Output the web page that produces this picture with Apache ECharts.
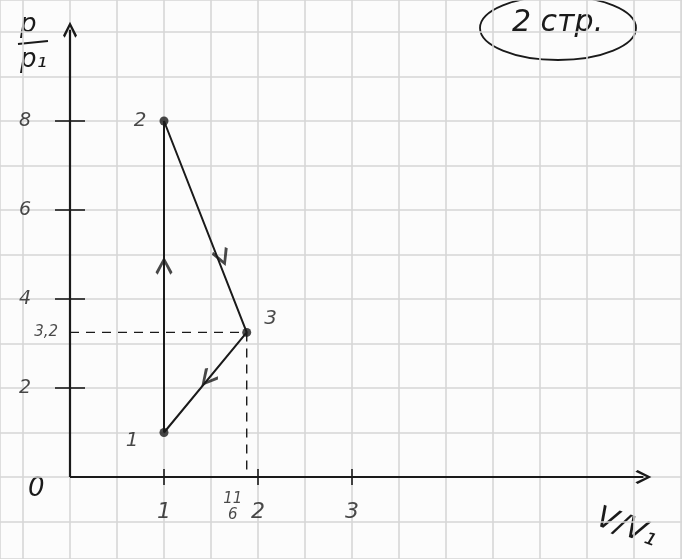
<!DOCTYPE html>
<html>
<head>
<meta charset="utf-8">
<script src="https://cdn.jsdelivr.net/npm/echarts@6/dist/echarts.min.js"></script>
<style>
html, body { margin: 0; padding: 0; background: #fcfcfc; }
#main { width: 682px; height: 559px; }
</style>
</head>
<body>
<div id="main"></div>
<script>
// states of the cycle, in V/V1 and p/p1
var stateNames = ['1', '2', '3']
var stateV = [1, 1, 1.88]
var stateP = [1, 8, 3.25]
var cycleOrder = [0, 1, 2, 0]

var xTicks = [1, 2, 3]
var yTicks = [2, 4, 6, 8]
var xAxisEnd = 6.1
var yAxisEnd = 10.05

// where the direction arrows sit on each leg
var arrowV = [1, 1.62, 1.46]
var arrowP = [4.75, 4.93, 2.2]
var arrowRot = [0, -158, 140]

var guideLabelY = '3,2'
var guideLabelX = '11\n6'

var ink = '#1a1a1a'
var font = 'DejaVu Sans'
var chevron = 'path://M6,0 L12,9 L10.5,10.4 L6,3.2 L1.5,10.4 L0,9 Z'

var myChart = echarts.init(document.getElementById('main'))

var pts = stateV.map(function (v, i) { return [v, stateP[i]] })
var cycle = cycleOrder.map(function (i) { return pts[i] })
var p3 = pts[2]

// squared paper: 47px per half unit of V, 44.5px per unit of p, origin at (70, 477)
var option = {
  backgroundColor: '#fcfcfc',
  animation: false,
  grid: { left: 0, right: 0, top: 0, bottom: 0 },
  xAxis: {
    type: 'value', min: -70 / 94, max: 612 / 94, minInterval: 0.5, maxInterval: 0.5,
    axisLine: { show: false }, axisTick: { show: false }, axisLabel: { show: false },
    splitLine: { lineStyle: { color: '#d6d6d6', width: 1.6 } }
  },
  yAxis: {
    type: 'value', min: -82 / 44.5, max: 477 / 44.5, minInterval: 1, maxInterval: 1,
    axisLine: { show: false }, axisTick: { show: false }, axisLabel: { show: false },
    splitLine: { lineStyle: { color: '#d6d6d6', width: 1.6 } }
  },
  graphic: [
    { type: 'text', left: 20, top: 12, style: { text: 'p', font: 'italic 26px ' + font, fill: ink } },
    { type: 'line', shape: { x1: 18, y1: 44, x2: 48, y2: 41 }, style: { stroke: ink, lineWidth: 2 } },
    { type: 'text', left: 20, top: 47, style: { text: 'p₁', font: 'italic 26px ' + font, fill: ink } },
    { type: 'text', left: 28, top: 476, style: { text: '0', font: 'italic 26px ' + font, fill: ink } },
    { type: 'text', x: 602, y: 503, rotation: -0.35, style: { text: 'V/V₁', font: 'italic 30px ' + font, fill: ink } },
    { type: 'ellipse', shape: { cx: 558, cy: 28, rx: 78, ry: 32 }, style: { fill: 'none', stroke: ink, lineWidth: 1.8 } },
    { type: 'text', left: 512, top: 8, style: { text: '2 стр.', font: 'italic 30px ' + font, fill: ink } }
  ],
  series: [
    {
      name: 'axisV', type: 'line', silent: true, symbolSize: [14, 16],
      lineStyle: { color: ink, width: 2.2 }, itemStyle: { color: ink },
      data: [{ value: [0, 0], symbol: 'none' }, { value: [xAxisEnd, 0], symbol: chevron, symbolRotate: -90 }]
    },
    {
      name: 'axisP', type: 'line', silent: true, symbolSize: [14, 16],
      lineStyle: { color: ink, width: 2.2 }, itemStyle: { color: ink },
      data: [{ value: [0, 0], symbol: 'none' }, { value: [0, yAxisEnd], symbol: chevron }]
    },
    {
      name: 'ticksV', type: 'scatter', symbol: 'rect', symbolSize: [2, 16],
      itemStyle: { color: ink },
      label: { show: true, position: 'bottom', distance: 16, color: ink, fontFamily: font, fontSize: 22, fontStyle: 'italic', formatter: function (p) { return p.value[0] } },
      data: xTicks.map(function (v) { return [v, 0] })
    },
    {
      name: 'ticksP', type: 'scatter', symbol: 'rect', symbolSize: [30, 2],
      itemStyle: { color: ink },
      label: { show: true, position: 'left', distance: 24, color: ink, fontFamily: font, fontSize: 19, fontStyle: 'italic', formatter: function (p) { return p.value[1] } },
      data: yTicks.map(function (v) { return [0, v] })
    },
    {
      name: 'guideP', type: 'line', symbol: 'none',
      lineStyle: { color: ink, width: 1.4, type: [9, 7] },
      data: [[0, p3[1]], p3]
    },
    {
      name: 'guideV', type: 'line', symbol: 'none',
      lineStyle: { color: ink, width: 1.4, type: [9, 7] },
      data: [p3, [p3[0], 0]]
    },
    {
      name: 'guideLabels', type: 'scatter', symbolSize: 0,
      data: [
        { value: [0, p3[1]], label: { show: true, position: 'left', distance: 12, formatter: guideLabelY, fontSize: 15 } },
        { value: [p3[0], 0], label: { show: true, position: 'bottom', distance: 14, offset: [-14, 0], formatter: guideLabelX, fontSize: 15, lineHeight: 16 } }
      ],
      label: { color: ink, fontFamily: font, fontStyle: 'italic' }
    },
    {
      name: 'cycle', type: 'line', symbol: 'none',
      lineStyle: { color: ink, width: 2 },
      data: cycle
    },
    {
      name: 'states', type: 'scatter', symbolSize: 9,
      itemStyle: { color: ink },
      label: { show: true, color: ink, fontFamily: font, fontSize: 20, fontStyle: 'italic' },
      data: pts.map(function (p, i) {
        var lbl = [{ position: 'left', offset: [-16, 8] }, { position: 'left', offset: [-8, 0] }, { position: 'right', offset: [8, -14] }][i]
        return { value: p, label: Object.assign({ formatter: stateNames[i] }, lbl) }
      })
    },
    {
      name: 'direction', type: 'scatter', symbol: chevron, symbolSize: [17, 18],
      itemStyle: { color: ink },
      data: arrowV.map(function (v, i) { return { value: [v, arrowP[i]], symbolRotate: arrowRot[i] } })
    }
  ]
}

myChart.setOption(option)
</script>
</body>
</html>
